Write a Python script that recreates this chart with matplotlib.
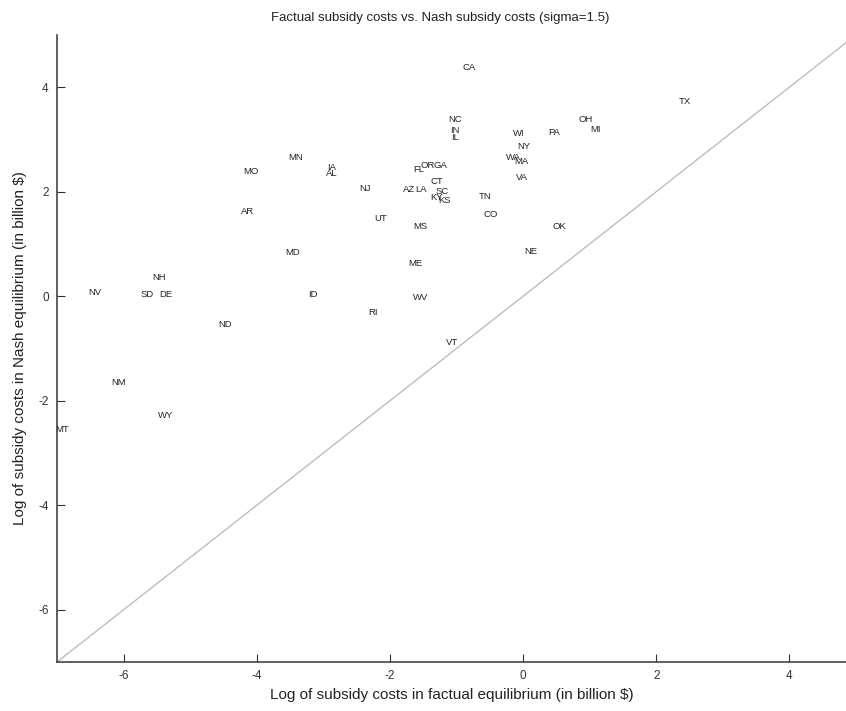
import matplotlib.pyplot as plt
import numpy as np

plt.rcParams['font.family'] = ['Liberation Sans', 'DejaVu Sans']
plt.rcParams['axes.unicode_minus'] = False

# state labels, log factual cost (x), log Nash cost (y)
states = ['CA', 'TX', 'OH', 'MI', 'NC', 'IN', 'IL', 'WI', 'PA', 'NY',
          'WA', 'MA', 'VA', 'MN', 'IA', 'AL', 'MO', 'FL', 'OR', 'GA',
          'CT', 'AZ', 'LA', 'SC', 'KY', 'KS', 'NJ', 'TN', 'CO', 'AR',
          'UT', 'MS', 'OK', 'MD', 'NE', 'ME', 'NH', 'NV', 'SD', 'DE',
          'ID', 'WV', 'RI', 'ND', 'VT', 'NM', 'WY', 'MT']
factual = [-0.81, 2.43, 0.94, 1.09, -1.02, -1.02, -1.02, -0.07, 0.46, 0.01,
           -0.15, -0.03, -0.01, -3.42, -2.88, -2.88, -4.09, -1.57, -1.44, -1.24,
           -1.30, -1.71, -1.53, -1.21, -1.30, -1.18, -2.38, -0.57, -0.49, -4.14,
           -2.14, -1.54, 0.55, -3.46, 0.12, -1.62, -5.47, -6.43, -5.64, -5.37,
           -3.16, -1.54, -2.26, -4.47, -1.06, -6.07, -5.37, -6.93]
nash = [4.38, 3.73, 3.38, 3.19, 3.38, 3.17, 3.04, 3.12, 3.14, 2.87,
        2.66, 2.58, 2.28, 2.66, 2.47, 2.35, 2.39, 2.43, 2.50, 2.50,
        2.20, 2.05, 2.05, 2.01, 1.89, 1.84, 2.07, 1.91, 1.57, 1.63,
        1.49, 1.34, 1.34, 0.84, 0.86, 0.63, 0.36, 0.08, 0.04, 0.04,
        0.04, -0.02, -0.31, -0.55, -0.88, -1.66, -2.28, -2.56]

x_lo, x_hi = -7, 4.85
y_lo, y_hi = -7, 5

fig = plt.figure(figsize=(8.46, 7.11), dpi=100)
ax = fig.add_axes([0.0674, 0.0689, 0.9326, 0.882])

# 45 degree line
ax.plot([x_lo, x_hi], [x_lo, x_hi], color='#bdbdbd', lw=1.0)

for s, xv, yv in zip(states, factual, nash):
    ax.text(xv, yv, s, fontsize=6.8, color='#222222', ha='center', va='center',
            clip_on=True)

ax.set_xlim(x_lo, x_hi)
ax.set_ylim(y_lo, y_hi)
ax.set_xticks([-6, -4, -2, 0, 2, 4])
ax.set_yticks([-6, -4, -2, 0, 2, 4])
ax.tick_params(direction='in', length=6, labelsize=8.5, colors='#333333', pad=6)
for sp in ['top', 'right']:
    ax.spines[sp].set_visible(False)
for sp in ['left', 'bottom']:
    ax.spines[sp].set_color('#444444')
    ax.spines[sp].set_linewidth(1.2)

ax.set_xlabel('Log of subsidy costs in factual equilibrium (in billion $)',
              fontsize=11, color='#222222', labelpad=4)
ax.set_ylabel('Log of subsidy costs in Nash equilibrium (in billion $)',
              fontsize=11, color='#222222', labelpad=8)
fig.text(0.52, 0.974, 'Factual subsidy costs vs. Nash subsidy costs (sigma=1.5)',
         ha='center', va='center', fontsize=9.5, color='#222222')

fig.savefig('out.png', dpi=100)
